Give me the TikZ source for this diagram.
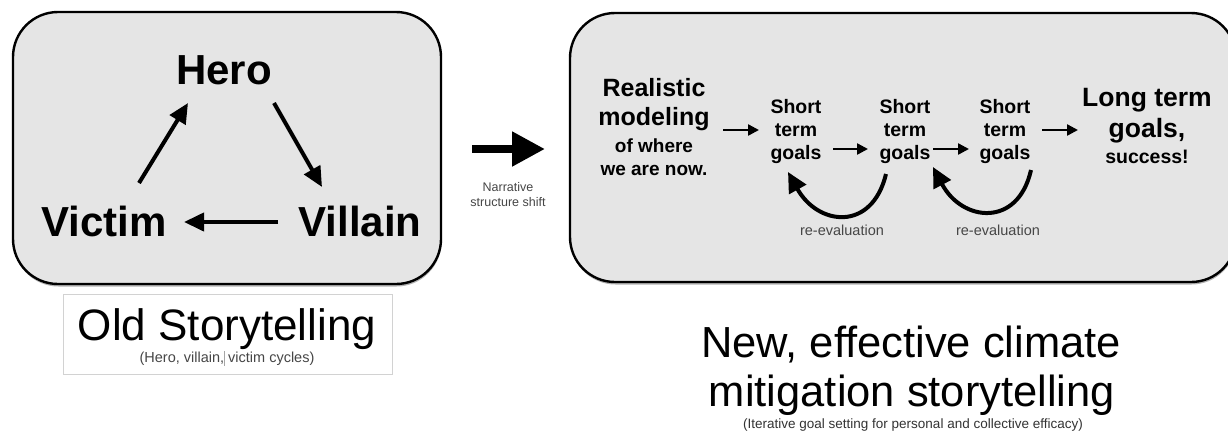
\documentclass[tikz,border=0pt]{standalone}
\usepackage{fontspec}
\setmainfont{Liberation Sans}[Ligatures=NoCommon]
\usetikzlibrary{arrows.meta,shadows}
\definecolor{panel}{RGB}{229,229,229}
\definecolor{framegray}{RGB}{210,210,210}
\definecolor{lbl}{RGB}{70,70,70}
\begin{document}
\begin{tikzpicture}[x=1pt,y=-1pt,
  panelbox/.style={draw=black, line width=2.4pt, fill=panel, rounded corners=45pt,
    drop shadow={shadow xshift=0.5pt, shadow yshift=-2.5pt, opacity=0.3, fill=black}},
  bigword/.style={font=\bfseries\fontsize{42}{48}\selectfont, inner sep=0pt, anchor=base},
  triarrow/.style={line width=4pt, -{Triangle[length=20pt,width=18pt]}},
  thinarrow/.style={line width=2.4pt, -{Triangle[length=11pt,width=11pt]}},
  loopback/.style={line width=4pt, -{Triangle[length=20pt,width=19pt]}},
  shortgoal/.style={font=\bfseries\fontsize{19.5}{23}\selectfont, align=center, inner sep=0pt, anchor=north},
  graylabel/.style={font=\fontsize{14.5}{17}\selectfont, text=lbl, inner sep=0pt, anchor=base},
  titletext/.style={font=\fontsize{44}{50}\selectfont, inner sep=0pt, anchor=base}
]
\useasboundingbox (0,0) rectangle (1228,432);
\fill[white] (0,0) rectangle (1228,432);

% ---------- left panel ----------
\draw[panelbox] (13,12) rectangle (441,284);
\node[bigword] (hero) at (224,84) {Hero};
\node[bigword] (victim) at (104,236) {Victim};
\node[bigword] (villain) at (360,236) {Villain};
\coordinate (vhA) at (139,183); \coordinate (vhB) at (188,103);
\coordinate (hvA) at (274,103); \coordinate (hvB) at (322,187);
\coordinate (vvA) at (278,222); \coordinate (vvB) at (184,222);
\draw[triarrow] (vhA) -- (vhB);
\draw[triarrow] (hvA) -- (hvB);
\draw[triarrow] (vvA) -- (vvB);

% old storytelling caption
\node[draw=framegray, line width=1pt, fill=white, minimum width=329pt, minimum height=80pt, inner sep=0pt] (oldbox) at (227.5,334) {};
\node[titletext] (oldt) at (227,340) {Old Storytelling};
\node[graylabel] (olds) at (227,362) {(Hero, villain, victim cycles)};
\draw[gray!70, line width=0.8pt] (olds.base west) ++(85.5,-11) coordinate (cur) -- ++(0,15);

% ---------- shift arrow ----------
\coordinate (shiftA) at (472,149); \coordinate (shiftB) at (545,149);
\draw[line width=8pt, -{Triangle[length=33pt,width=33pt]}] (shiftA) -- (shiftB);
\node[font=\fontsize{12.5}{14.5}\selectfont, text=lbl, align=center, inner sep=0pt, anchor=north] (shift) at (508,182.5) {Narrative\\structure shift};

% ---------- right panel ----------
\draw[panelbox] (570,13) rectangle (1236,282);
\node[font=\bfseries\fontsize{25}{29}\selectfont, align=center, inner sep=0pt, anchor=north] (real) at (654,78)
  {Realistic\\modeling\\[-2pt]{\fontsize{19}{23}\selectfont of where}\\[-6pt]{\fontsize{19}{23}\selectfont we are now.}};
\node[shortgoal] (s1) at (796,99) {Short\\term\\goals};
\node[shortgoal] (s2) at (905,99) {Short\\term\\goals};
\node[shortgoal] (s3) at (1005,99) {Short\\term\\goals};
\node[font=\bfseries\fontsize{26.5}{31}\selectfont, align=center, inner sep=0pt, anchor=north] (long) at (1147,88)
  {Long term\\goals,\\[-5pt]{\fontsize{19.5}{23}\selectfont success!}};

\coordinate (a1A) at (723,130); \coordinate (a1B) at (759,130);
\coordinate (a2A) at (833,149); \coordinate (a2B) at (868,149);
\coordinate (a3A) at (933,149); \coordinate (a3B) at (969,149);
\coordinate (a4A) at (1042,130); \coordinate (a4B) at (1078,130);
\draw[thinarrow] (a1A) -- (a1B);
\draw[thinarrow] (a2A) -- (a2B);
\draw[thinarrow] (a3A) -- (a3B);
\draw[thinarrow] (a4A) -- (a4B);

\coordinate (c1A) at (886,174); \coordinate (c1B) at (788,172);
\coordinate (c2A) at (1031,170); \coordinate (c2B) at (933,167);
\draw[loopback] (c1A) .. controls (872,232) and (818,226) .. (c1B);
\draw[loopback] (c2A) .. controls (1018,228) and (962,222) .. (c2B);
\node[graylabel] (re1) at (842,235) {re-evaluation};
\node[graylabel] (re2) at (998,235) {re-evaluation};

% new storytelling caption
\node[titletext, font=\fontsize{43.5}{50}\selectfont] (newt1) at (911,357) {New, effective climate};
\node[titletext, font=\fontsize{43.5}{50}\selectfont] (newt2) at (912,406) {mitigation storytelling};
\node[graylabel, font=\fontsize{13.5}{16}\selectfont, text=black!80] (news) at (913,428) {(Iterative goal setting for personal and collective efficacy)};
\end{tikzpicture}
\end{document}
